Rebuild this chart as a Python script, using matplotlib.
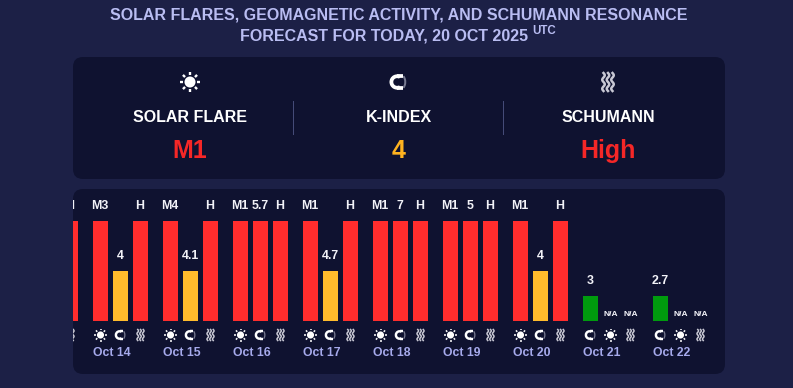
import numpy as np
import matplotlib
matplotlib.use('Agg')
import matplotlib.pyplot as plt
from matplotlib.patches import FancyBboxPatch, Circle, Wedge, Arc

plt.rcParams['font.family'] = ['Liberation Sans', 'DejaVu Sans']
plt.rcParams['font.weight'] = 'bold'

days = ['Oct 13', 'Oct 14', 'Oct 15', 'Oct 16', 'Oct 17', 'Oct 18', 'Oct 19', 'Oct 20', 'Oct 21', 'Oct 22']
flare_labels = ['M1', 'M3', 'M4', 'M1', 'M1', 'M1', 'M1', 'M1', 'N/A', 'N/A']
k_labels = ['5', '4', '4.1', '5.7', '4.7', '7', '5', '4', '3', '2.7']
schumann_labels = ['H', 'H', 'H', 'H', 'H', 'H', 'H', 'H', 'N/A', 'N/A']
# bar heights as severity levels
flare_levels = [4, 4, 4, 4, 4, 4, 4, 4, 0, 0]
k_levels = [4, 2, 2, 4, 2, 4, 4, 2, 1, 1]
schumann_levels = [4, 4, 4, 4, 4, 4, 4, 4, 0, 0]
level_colors = {0: '#ff2d2d', 1: '#009b0e', 2: '#ffbb2c', 4: '#ff2d2d'}

BG = '#1c2046'
PANEL = '#0f1230'
LABEL = '#f2f2f8'
DATE = '#a6aaec'


def draw_sun(ax, x, y, r, clip):
    arts = [Circle((x, y), r * 0.55, fc='white', ec='none')]
    for a in np.arange(8) * np.pi / 4:
        arts += ax.plot([x + r * 0.7 * np.cos(a), x + r * np.cos(a)],
                        [y + r * 0.7 * np.sin(a), y + r * np.sin(a)],
                        color='white', lw=r * 0.17, solid_capstyle='butt')
    ax.add_patch(arts[0])
    for a in arts:
        a.set_clip_path(clip)


def draw_magnet(ax, x, y, r, clip):
    arts = [Wedge((x - r * 0.15, y), r * 0.85, 60, 300, width=r * 0.42, fc='white', ec='none')]
    ax.add_patch(arts[0])
    # the two pole ends and the field arc
    arts += ax.plot([x - r * 0.15, x + r * 0.45], [y - r * 0.64, y - r * 0.64], color='white', lw=r * 0.3,
                    solid_capstyle='butt')
    arts += ax.plot([x - r * 0.15, x + r * 0.45], [y + r * 0.64, y + r * 0.64], color='white', lw=r * 0.3,
                    solid_capstyle='butt')
    arts.append(ax.add_patch(Arc((x + r * 0.3, y), r * 0.9, r * 1.5, theta1=-70, theta2=70,
                                 color='#777a90', lw=r * 0.16)))
    for a in arts:
        a.set_clip_path(clip)


def draw_waves(ax, x, y, r, clip):
    t = np.linspace(-1, 1, 40)
    for dx in (-0.5, 0, 0.5):
        line, = ax.plot(x + r * (dx + 0.14 * np.sin(t * 2 * np.pi)), y + r * t,
                        color='#c8c8d4', lw=r * 0.2)
        line.set_clip_path(clip)


fig = plt.figure(figsize=(7.93, 3.88), dpi=100, facecolor=BG)

# page axes in pixels, for the panels and the summary block
page = fig.add_axes([0, 0, 1, 1])
page.set_xlim(0, 793)
page.set_ylim(388, 0)
page.axis('off')

page.add_patch(FancyBboxPatch((83, 67), 632, 102, boxstyle='round,pad=10,rounding_size=10',
                              fc=PANEL, ec='none'))
bottom_panel = FancyBboxPatch((83, 199), 632, 165, boxstyle='round,pad=10,rounding_size=10',
                              fc=PANEL, ec='none')
page.add_patch(bottom_panel)

page.text(399, 15.5, 'SOLAR FLARES, GEOMAGNETIC ACTIVITY, AND SCHUMANN RESONANCE',
          color='#b9bdf2', fontsize=11.5, ha='center', va='center')
page.text(384.5, 36, 'FORECAST FOR TODAY, 20 OCT 2025',
          color='#b9bdf2', fontsize=11.5, ha='center', va='center')
page.text(532, 31, 'UTC', color='#b9bdf2', fontsize=8.3, ha='left', va='center')

summary_x = [190, 399, 608]
summary_names = ['SOLAR FLARE', 'K-INDEX', 'SCHUMANN']
summary_values = ['M1', '4', 'High']
summary_colors = ['#f52727', '#ffb31f', '#f52727']
for x, name, val, col in zip(summary_x, summary_names, summary_values, summary_colors):
    page.text(x, 117, name, color='white', fontsize=11.5, ha='center', va='center')
    page.text(x, 151, val, color=col, fontsize=18, ha='center', va='center')
for x in (293, 503):
    page.plot([x, x], [101, 134], color='#454b78', lw=0.72)
draw_sun(page, 190, 82, 10, None)
draw_magnet(page, 398.5, 82, 9, None)
draw_waves(page, 608, 82, 9, None)

# chart axes: x in days (70 px each), y in levels (25 px each)
ax = fig.add_axes([73 / 793, (388 - 374) / 388, 652 / 793, 185 / 388])
ax.set_xlim(-(120.5 - 73) / 70, (725 - 120.5) / 70)
ax.set_ylim(-(374 - 321) / 25, (321 - 189) / 25)
ax.axis('off')
ax.patch.set_alpha(0)

clip = bottom_panel
slot = 20 / 70
for i, day in enumerate(days):
    slots = [(flare_labels[i], flare_levels[i], 'sun'),
             (k_labels[i], k_levels[i], 'magnet'),
             (schumann_labels[i], schumann_levels[i], 'waves')]
    # forecast days have the k-index first
    if flare_labels[i] == 'N/A':
        slots = [slots[1], slots[0], slots[2]]
    for j, (label, level, icon) in enumerate(slots):
        x = i - 1 + (j - 1) * slot
        bars = ax.bar(x, level, width=15 / 70, color=level_colors[level])
        bars[0].set_clip_path(clip)
        if label == 'N/A':
            t = ax.annotate(label, (x, level), xytext=(0, 5), textcoords='offset points',
                            color=LABEL, fontsize=6, ha='center', va='center', annotation_clip=False)
        else:
            t = ax.annotate(label, (x, level), xytext=(-0.3, 10.8), textcoords='offset points',
                            color=LABEL, fontsize=8.9, ha='center', va='center', annotation_clip=False)
        # agg only honours a clip box for text, the axes edge is the panel edge
        t.set_clip_box(ax.bbox)
        t.set_clip_on(True)
        ix, iy = page.transData.inverted().transform(ax.transData.transform((x, 0)))
        if icon == 'sun':
            draw_sun(page, ix, 335, 6.5, clip)
        elif icon == 'magnet':
            draw_magnet(page, ix, 335, 5.8, clip)
        else:
            draw_waves(page, ix, 335, 5.5, clip)
    d = ax.annotate(day, (i - 1 - slot - 7.5 / 70, 0), xytext=(0, -23), textcoords='offset points',
                    color=DATE, fontsize=8.8, ha='left', va='center', annotation_clip=False)
    d.set_clip_box(ax.bbox)
    d.set_clip_on(True)

fig.savefig('out.png', dpi=100, facecolor=BG)
